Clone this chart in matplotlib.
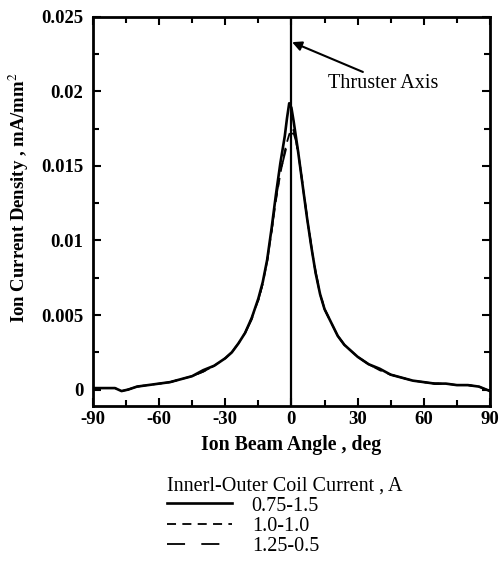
"""Ion current density profile across the plume for three coil-current settings."""
import matplotlib
matplotlib.use("Agg")
import matplotlib.pyplot as plt
from matplotlib.ticker import MultipleLocator

plt.rcParams["font.family"] = ["Liberation Serif", "DejaVu Serif"]
plt.rcParams["mathtext.fontset"] = "stix"

# beam angle, deg
angle = [-90, -85, -80, -77, -74, -70, -65, -60, -55, -50, -45, -40, -35,
         -30, -27, -24, -21, -18, -15, -13, -11, -9, -7, -5, -3, -2, -1, 0,
         1, 2, 3, 5, 7, 9, 11, 13, 15, 18, 21, 24, 27, 30, 35, 40, 45, 50,
         55, 60, 65, 70, 75, 80, 85, 90]

# ion current density, mA/mm^2  (inner-outer coil current 0.75-1.5 A)
j_075_15 = [0.0001, 0.0001, 0.0001, -0.0001, 0.0000, 0.0002, 0.0003, 0.0004,
            0.0005, 0.0007, 0.0009, 0.0013, 0.0016, 0.0021, 0.0025, 0.0031,
            0.0038, 0.0048, 0.0061, 0.0072, 0.0087, 0.0108, 0.0131, 0.0152,
            0.0170, 0.0182, 0.0192, 0.0189, 0.0180, 0.0170, 0.0160, 0.0138,
            0.0116, 0.0096, 0.0078, 0.0064, 0.0054, 0.0045, 0.0036, 0.0030,
            0.0026, 0.0022, 0.0017, 0.0014, 0.0010, 0.0008, 0.0006, 0.0005,
            0.0004, 0.0004, 0.0003, 0.0003, 0.0002, -0.0001]
# 1.0-1.0 A
j_10_10 = [0.0001, 0.0001, 0.0001, -0.0001, 0.0000, 0.0002, 0.0003, 0.0004,
           0.0005, 0.0007, 0.0009, 0.0012, 0.0016, 0.0021, 0.0025, 0.0031,
           0.0038, 0.0048, 0.0060, 0.0071, 0.0086, 0.0106, 0.0127, 0.0145,
           0.0160, 0.0166, 0.0171, 0.0175, 0.0174, 0.0168, 0.0160, 0.0138,
           0.0116, 0.0096, 0.0078, 0.0064, 0.0054, 0.0045, 0.0036, 0.0030,
           0.0026, 0.0022, 0.0017, 0.0013, 0.0010, 0.0008, 0.0006, 0.0005,
           0.0004, 0.0004, 0.0003, 0.0003, 0.0002, -0.0001]
# 1.25-0.5 A
j_125_05 = [0.0001, 0.0001, 0.0001, -0.0001, 0.0000, 0.0002, 0.0003, 0.0004,
            0.0005, 0.0007, 0.0009, 0.0012, 0.0016, 0.0021, 0.0025, 0.0031,
            0.0038, 0.0047, 0.0060, 0.0071, 0.0086, 0.0106, 0.0128, 0.0146,
            0.0158, 0.0164, 0.0168, 0.0171, 0.0172, 0.0167, 0.0159, 0.0139,
            0.0117, 0.0097, 0.0079, 0.0065, 0.0054, 0.0045, 0.0036, 0.0030,
            0.0026, 0.0022, 0.0017, 0.0013, 0.0010, 0.0008, 0.0006, 0.0005,
            0.0004, 0.0004, 0.0003, 0.0003, 0.0002, -0.0001]

series_labels = ["0.75-1.5", "1.0-1.0", "1.25-0.5"]
yticks = [0, 0.005, 0.01, 0.015, 0.02, 0.025]
ytick_labels = ["0", "0.005", "0.01", "0.015", "0.02", "0.025"]
xticks = [-90, -60, -30, 0, 30, 60, 90]

fig = plt.figure(figsize=(5.02, 5.69), dpi=100)
ax = fig.add_axes([0.185, 0.2865, 0.791, 0.684])

ax.plot(angle, j_075_15, color="black", lw=1.9, ls="-", label=series_labels[0])
ax.plot(angle, j_10_10, color="black", lw=1.3, ls=(0, (5, 3.5)), label=series_labels[1])
ax.plot(angle, j_125_05, color="black", lw=1.3, ls=(0, (10, 9)), label=series_labels[2])

# thruster axis marker
ax.axvline(0, color="black", lw=1.6)
ax.annotate("", xy=(0.3, 0.0233), xytext=(32.4, 0.0213),
            arrowprops=dict(arrowstyle="-|>", color="black", lw=1.5,
                            shrinkA=0, shrinkB=0, mutation_scale=14))
ax.text(16.5, 0.0205, "Thruster Axis", fontsize=14.5, va="center", ha="left")

ax.set_xlim(-90, 90)
ax.set_ylim(-0.0011, 0.025)
ax.set_xticks(xticks)
ax.set_xticklabels([str(t) for t in xticks])
ax.set_yticks(yticks)
ax.set_yticklabels(ytick_labels)
ax.xaxis.set_minor_locator(MultipleLocator(15))
ax.yaxis.set_minor_locator(MultipleLocator(0.0025))
ax.tick_params(which="both", direction="in", top=True, right=True, width=1.5,
               labelsize=13.5)
ax.tick_params(which="major", length=6)
ax.tick_params(which="minor", length=4)
ax.tick_params(axis="y", pad=7)
for lab in ax.get_xticklabels() + ax.get_yticklabels():
    lab.set_fontweight("bold")
for sp in ax.spines.values():
    sp.set_linewidth(2)

ax.set_xlabel("Ion Beam Angle , deg", fontsize=14.3, fontweight="bold",
              labelpad=5)
ax.set_ylabel("Ion Current Density , mA/mm$^2$", fontsize=13.5,
              fontweight="bold")
ax.yaxis.set_label_coords(-0.155, 0.535)

leg = fig.legend(loc="center left", frameon=False, fontsize=14.5,
                 handlelength=3.2, handletextpad=1.0, labelspacing=0.05,
                 title="Innerl-Outer Coil Current , A", title_fontsize=14.5,
                 alignment="left", borderaxespad=0, borderpad=0)
leg.set_bbox_to_anchor((0.333, 0.093), transform=fig.transFigure)

fig.savefig("out.png", dpi=100)
